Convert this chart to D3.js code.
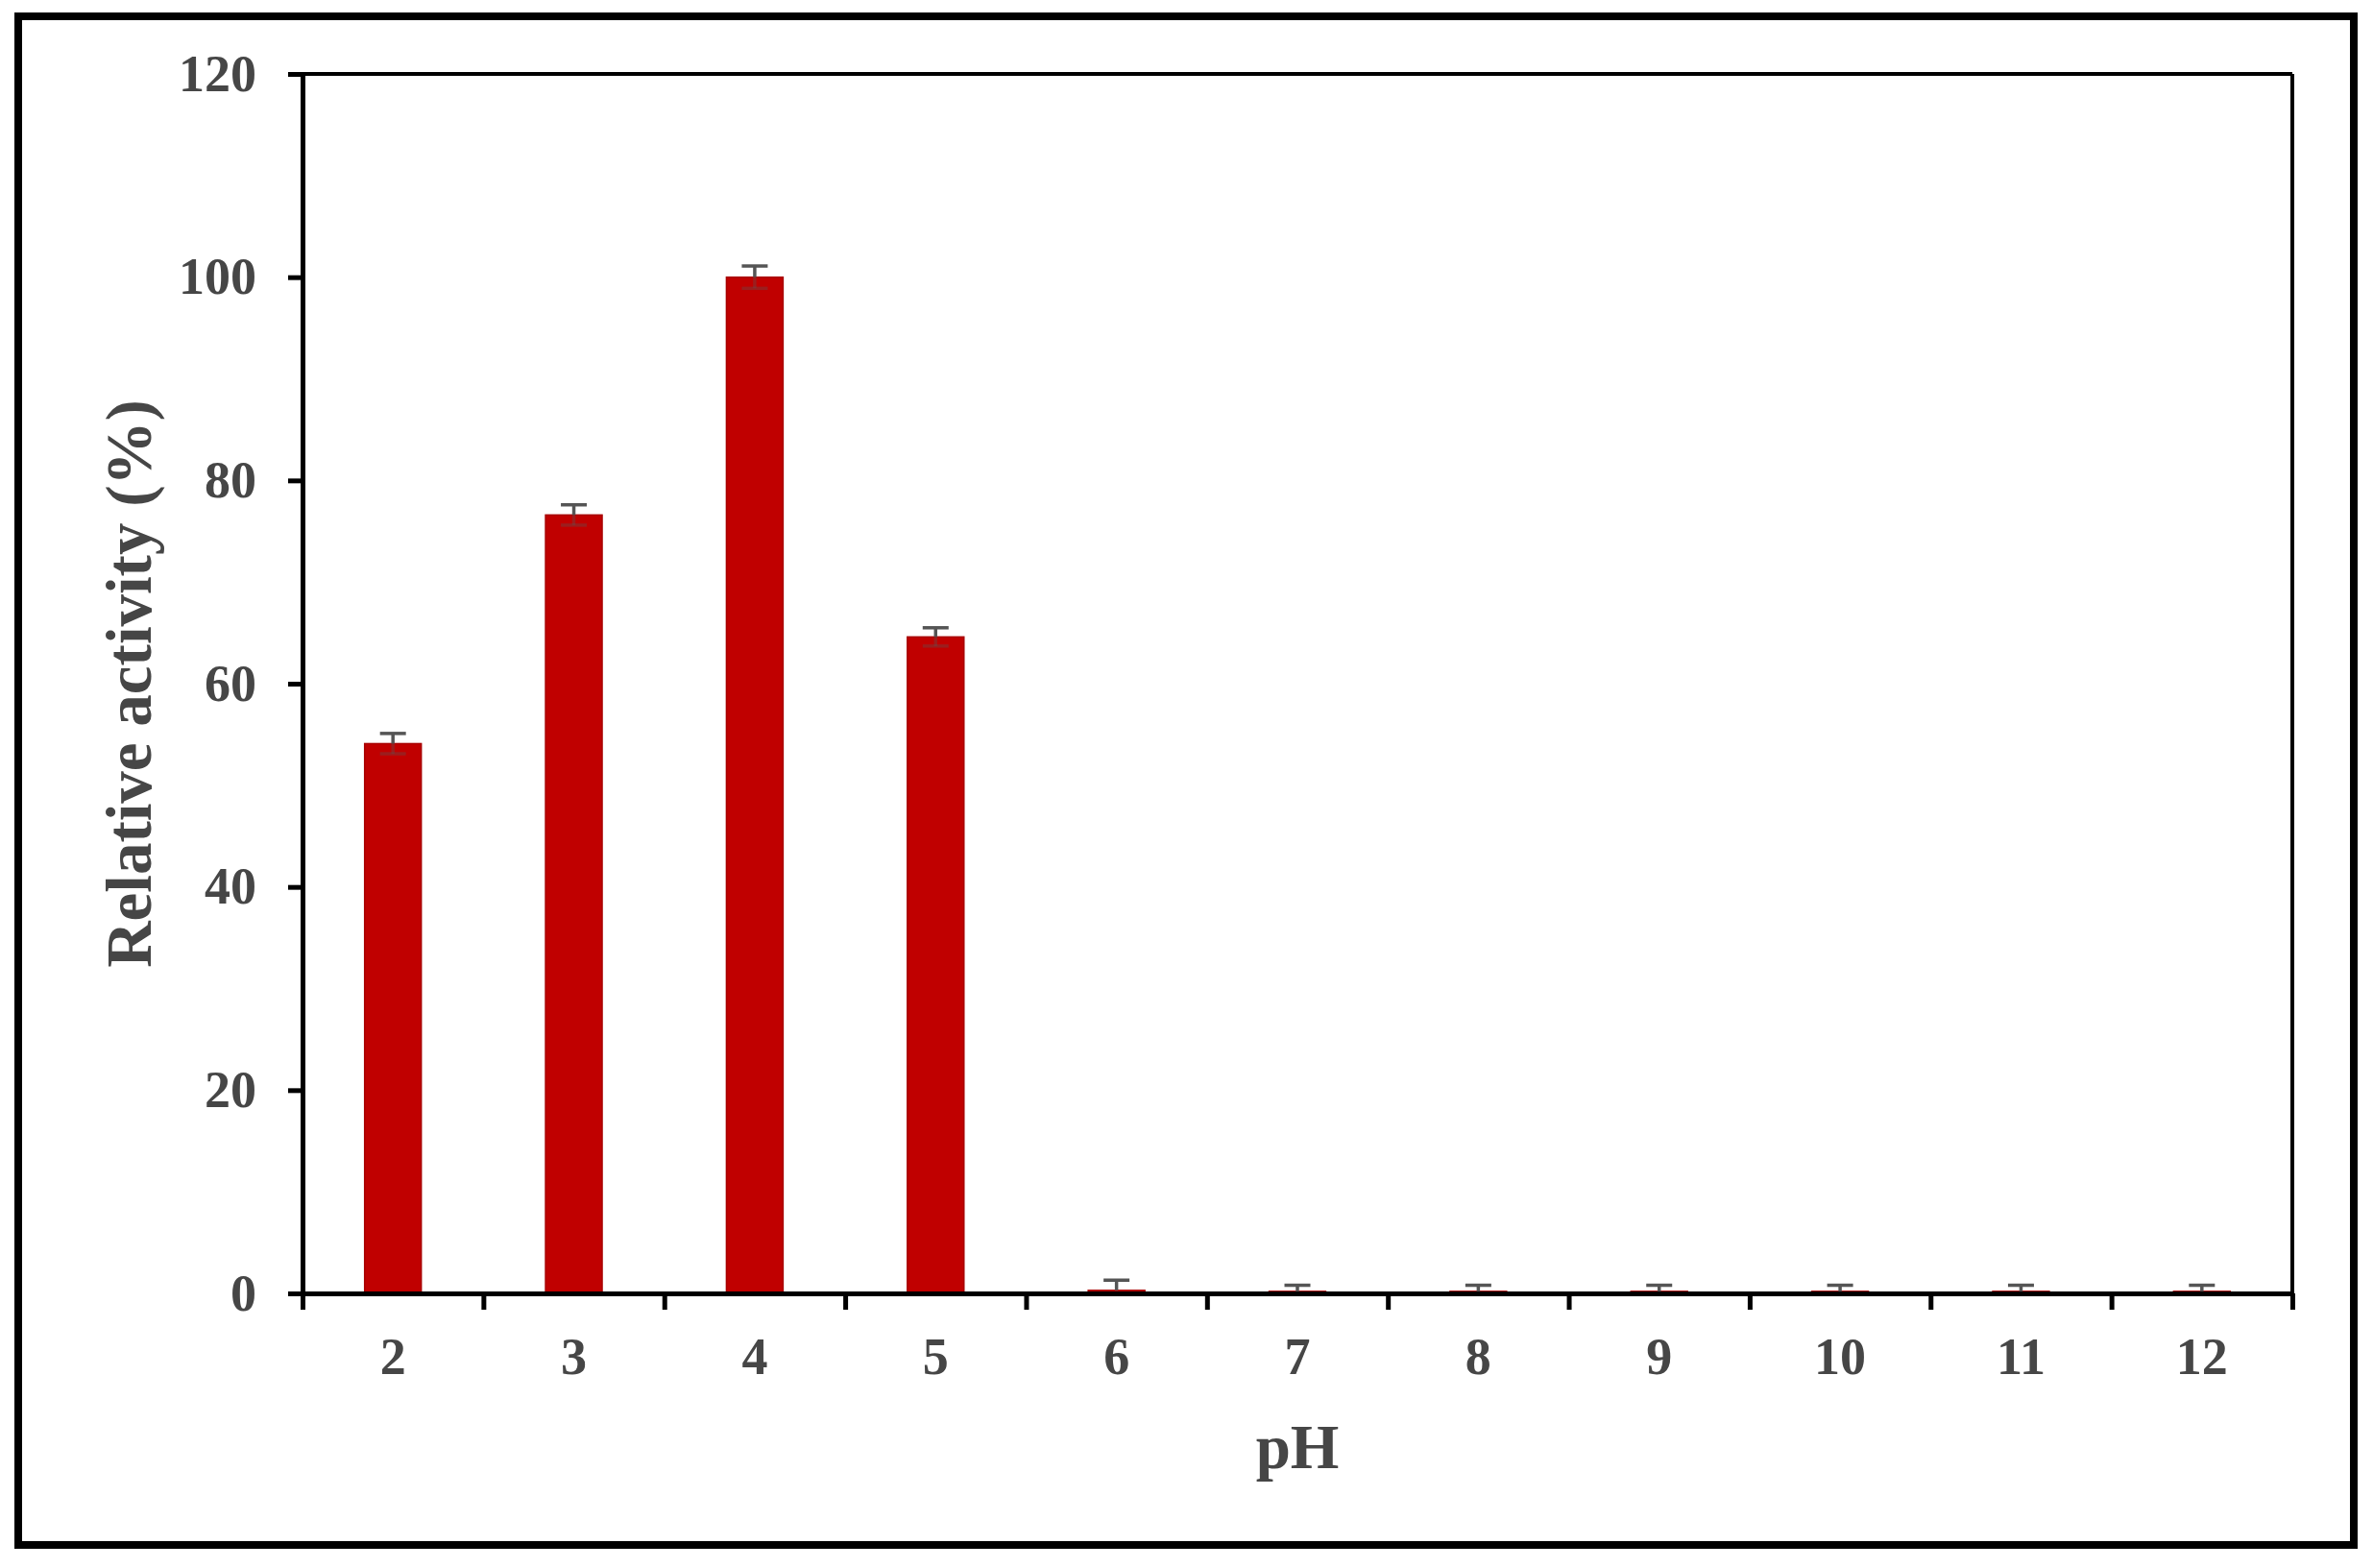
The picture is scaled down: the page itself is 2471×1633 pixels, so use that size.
<!DOCTYPE html>
<html>
<head>
<meta charset="utf-8">
<script src="https://cdn.jsdelivr.net/npm/d3@7"></script>
<style>
  html, body { margin: 0; padding: 0; background: #fff; }
  svg { display: block; }
  text { font-family: "Liberation Serif", "Times New Roman", serif; font-weight: bold; }
</style>
</head>
<body>
<svg id="chart" width="2471" height="1633"></svg>
<script>
// ---- data ----
const categories = ["2", "3", "4", "5", "6", "7", "8", "9", "10", "11", "12"];
const activity   = [54.1, 76.6, 100.0, 64.6, 0.3, 0.2, 0.2, 0.2, 0.2, 0.2, 0.2];
const errors     = [1.0, 1.0, 1.1, 0.9, 1.0, 0.6, 0.6, 0.6, 0.6, 0.6, 0.6];
const yTicks     = [0, 20, 40, 60, 80, 100, 120];
const xTitle = "pH";
const yTitle = "Relative activity (%)";

// ---- layout ----
const W = 2471, H = 1633;
const L = 315, R = 2387, T = 77, B = 1347;
const svg = d3.select("#chart");
const textColor = "#464646";

svg.append("rect").attr("x", 0).attr("y", 0).attr("width", W).attr("height", H).attr("fill", "#fff");
// outer frame
svg.append("rect").attr("x", 19).attr("y", 17).attr("width", 2432).attr("height", 1592)
  .attr("fill", "none").attr("stroke", "#000").attr("stroke-width", 8);

const x = d3.scaleBand().domain(categories).range([L, R]).padding(0);
const xEdge = d3.scaleLinear().domain([0, categories.length]).range([L, R]);
const y = d3.scaleLinear().domain([0, 120]).range([B, T]);

// plot frame top/right
svg.append("line").attr("x1", L).attr("x2", R).attr("y1", T).attr("y2", T)
  .attr("stroke", "#000").attr("stroke-width", 4);
svg.append("line").attr("x1", R).attr("x2", R).attr("y1", T).attr("y2", B)
  .attr("stroke", "#000").attr("stroke-width", 4);

// bars
const barFrac = 0.313;
const bw = x.bandwidth() * barFrac;
const gBars = svg.append("g");
gBars.selectAll("rect").data(categories).join("rect")
  .attr("x", d => x(d) + (x.bandwidth() - bw) / 2)
  .attr("width", bw)
  .attr("y", (d, i) => y(activity[i]))
  .attr("height", (d, i) => y(0) - y(activity[i]))
  .attr("fill", "#C00000")
  .attr("stroke", "#A80000")
  .attr("stroke-width", 1.5);

// error bars
const capW = 27;
const gErr = svg.append("g").attr("stroke", "#555").attr("stroke-width", 3.5);
categories.forEach((d, i) => {
  const cx = x(d) + x.bandwidth() / 2;
  const top = y(activity[i] + errors[i]);
  const mid = y(activity[i]);
  gErr.append("line").attr("x1", cx).attr("x2", cx).attr("y1", top).attr("y2", mid);
  gErr.append("line").attr("x1", cx - capW / 2).attr("x2", cx + capW / 2).attr("y1", top).attr("y2", top);
  if (activity[i] > 5) {
    const bot = y(activity[i] - errors[i]);
    gErr.append("line").attr("x1", cx).attr("x2", cx).attr("y1", mid).attr("y2", bot).attr("stroke-opacity", 0.35);
    gErr.append("line").attr("x1", cx - capW / 2).attr("x2", cx + capW / 2).attr("y1", bot).attr("y2", bot).attr("stroke-opacity", 0.35);
  }
});

// y axis
const yAxis = svg.append("g").attr("transform", `translate(${L},0)`)
  .call(d3.axisLeft(y).tickValues(yTicks).tickSize(15).tickSizeOuter(0).tickPadding(33));
yAxis.select(".domain").attr("stroke", "#000").attr("stroke-width", 5);
yAxis.selectAll(".tick line").attr("stroke", "#000").attr("stroke-width", 5);
yAxis.selectAll(".tick text").attr("font-size", 54).attr("fill", textColor)
  .attr("font-family", "Liberation Serif").attr("font-weight", "bold");

// x axis: edge ticks
const xAxisTicks = svg.append("g").attr("transform", `translate(0,${B})`)
  .call(d3.axisBottom(xEdge).ticks(categories.length).tickFormat("").tickSize(17).tickSizeOuter(0));
xAxisTicks.select(".domain").attr("stroke", "#000").attr("stroke-width", 5);
xAxisTicks.selectAll(".tick line").attr("stroke", "#000").attr("stroke-width", 5);

// x axis: labels
const xAxisLabels = svg.append("g").attr("transform", `translate(0,${B})`)
  .call(d3.axisBottom(x).tickSize(0).tickPadding(46));
xAxisLabels.select(".domain").remove();
xAxisLabels.selectAll(".tick text").attr("font-size", 54).attr("fill", textColor)
  .attr("font-family", "Liberation Serif").attr("font-weight", "bold");

// titles
svg.append("text").attr("x", (L + R) / 2).attr("y", 1529)
  .attr("text-anchor", "middle").attr("font-size", 65).attr("fill", textColor).text(xTitle);
svg.append("text").attr("transform", `translate(157,${(T + B) / 2}) rotate(-90)`)
  .attr("text-anchor", "middle").attr("font-size", 67).attr("fill", textColor).text(yTitle);
</script>
</body>
</html>
